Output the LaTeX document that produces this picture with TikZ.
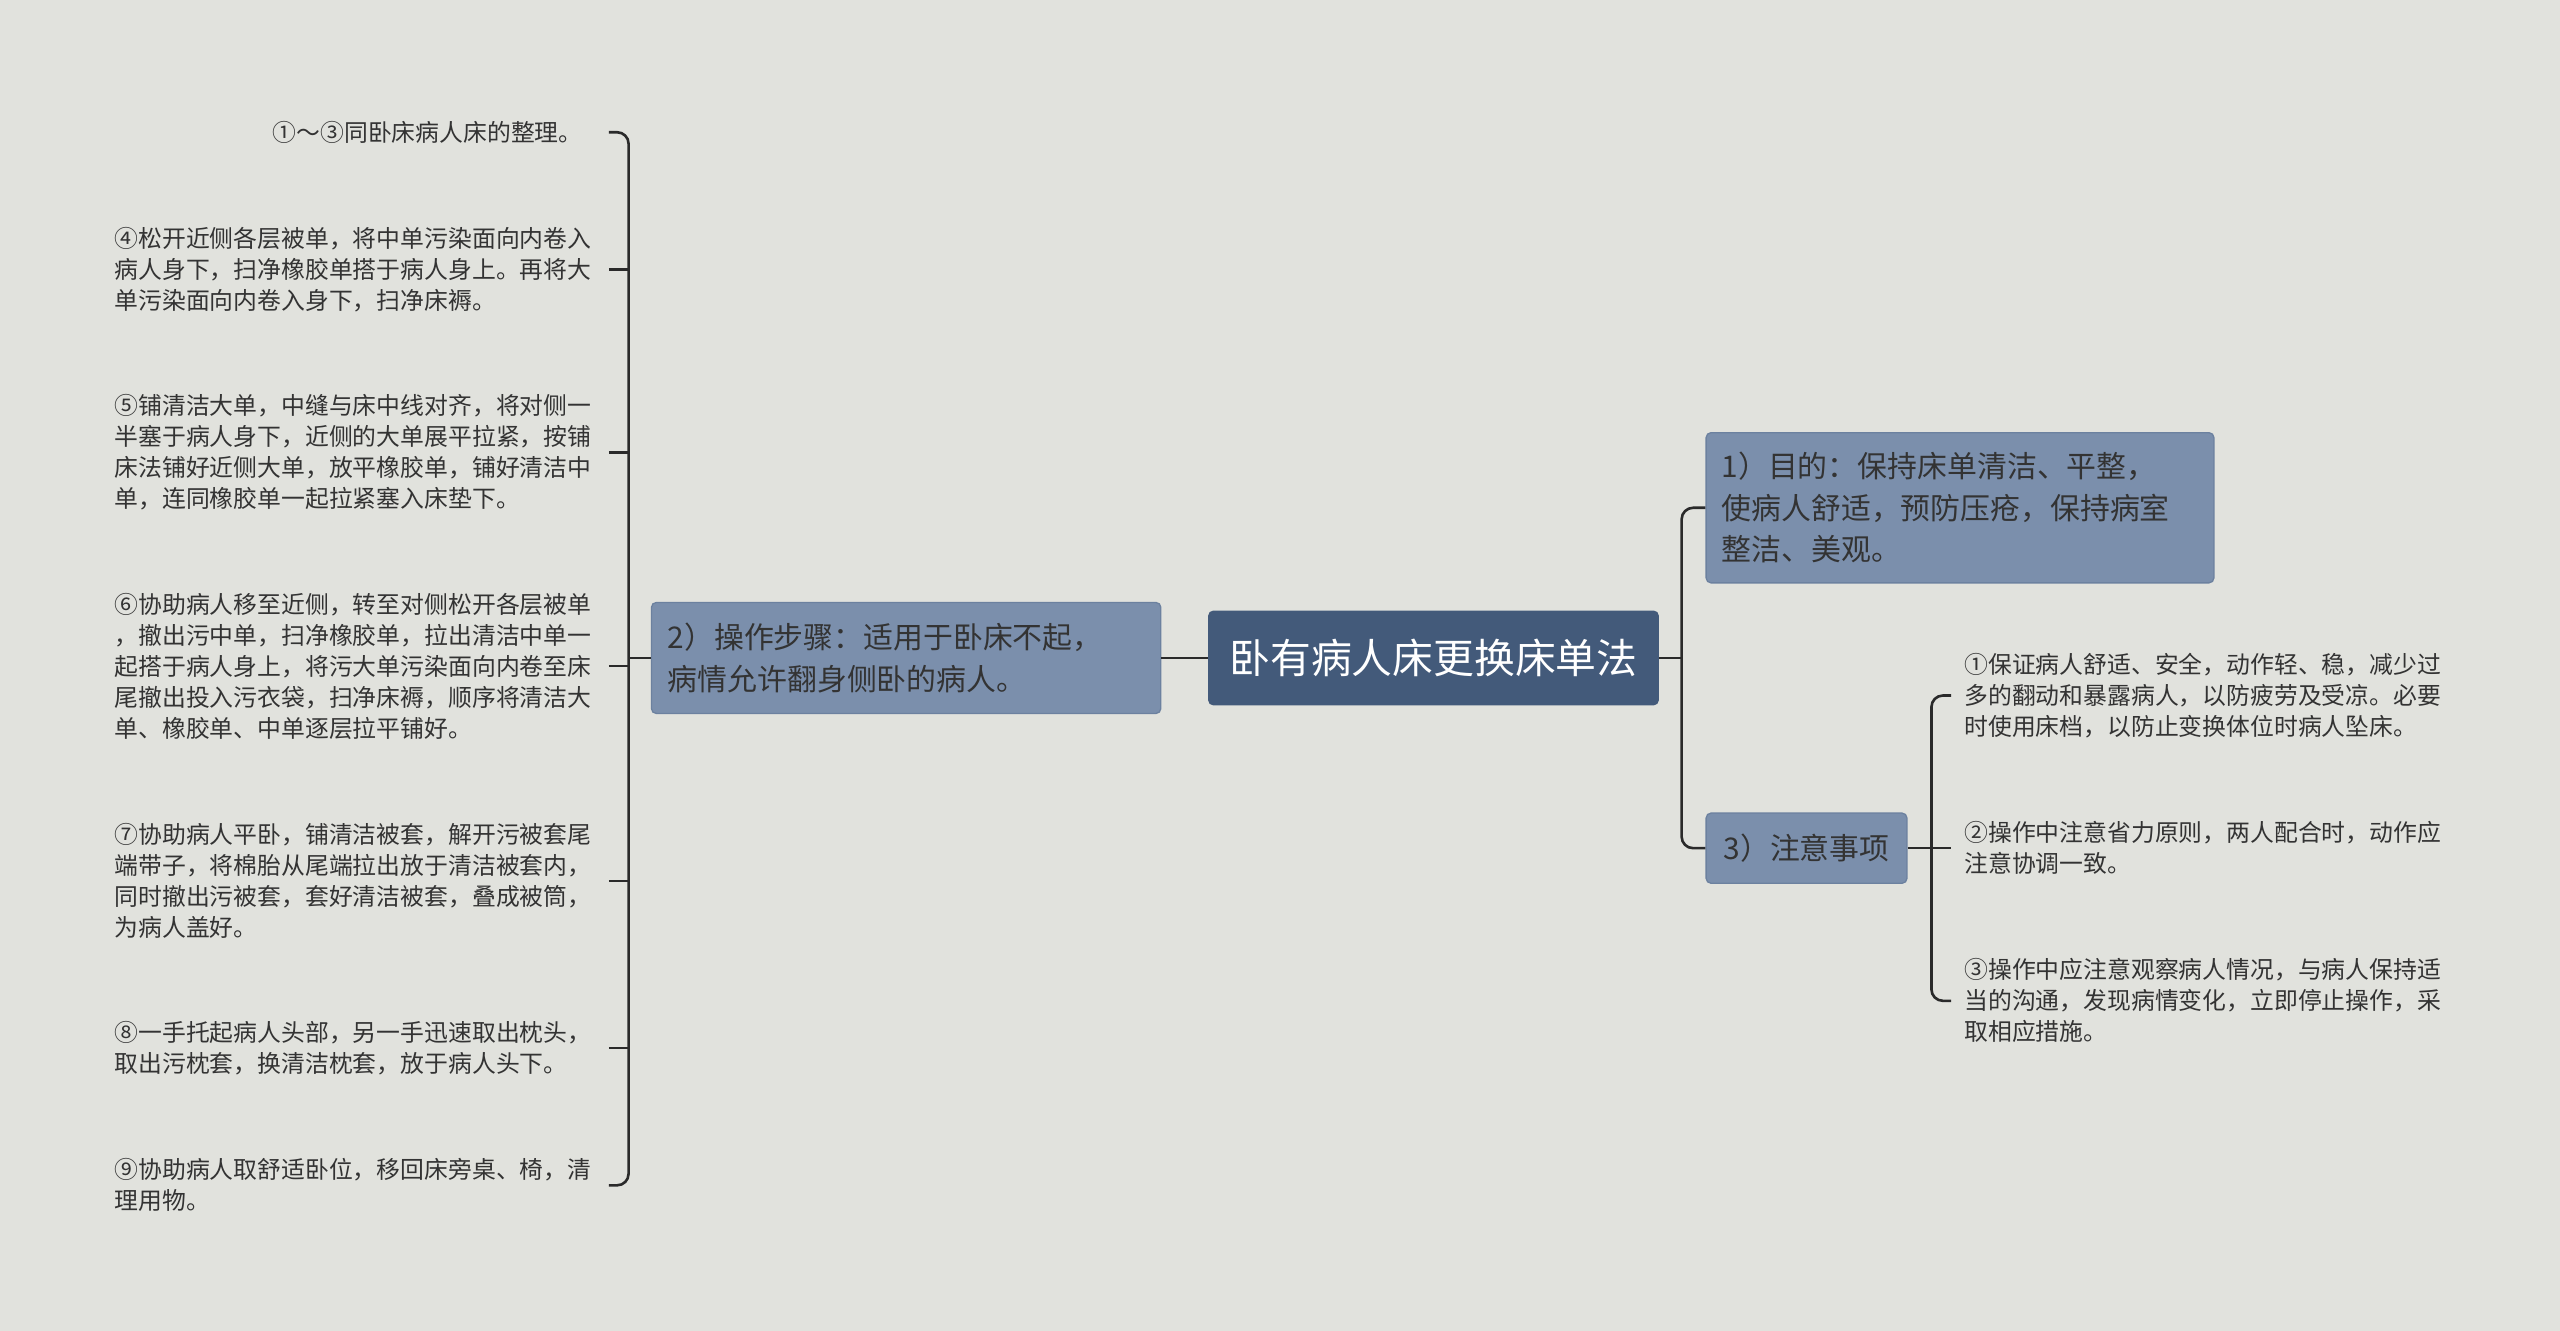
\documentclass[tikz,border=0pt]{standalone}
\usepackage{fontspec}
\setmainfont{Noto Sans CJK SC}
\definecolor{bg}{HTML}{E1E2DD}
\definecolor{cen}{HTML}{435A7A}
\definecolor{mid}{HTML}{7B8FAC}
\definecolor{midb}{HTML}{6C819F}
\definecolor{txt}{HTML}{333333}
\definecolor{ln}{HTML}{2A2A2A}
\tikzset{
 leaf/.style={font=\fontsize{14.6}{19}\selectfont,text=txt,inner sep=0pt,align=left},
 midbox/.style={fill=mid,draw=midb,line width=0.8pt,rounded corners=3pt,text=txt,font=\fontsize{18.3}{25.5}\selectfont,align=left,inner sep=0pt},
 conn/.style={draw=ln,line width=1.6pt,rounded corners=7pt}
}
\begin{document}
\begin{tikzpicture}[x=1pt,y=1pt]
\fill[bg] (0,0) rectangle (1568,-815);
\useasboundingbox (0,0) rectangle (1568,-815);
\node[fill=cen,rounded corners=3pt,text=white,font=\fontsize{25}{28}\selectfont,minimum width=276,minimum height=58,inner sep=0pt] (c) at (878,-403) {卧有病人床更换床单法};
\node[midbox,minimum width=312,minimum height=68,text width=292] (l) at (555,-403) {2）操作步骤：适用于卧床不起，\\病情允许翻身侧卧的病人。};
\node[midbox,minimum width=311,minimum height=92,text width=292] (r1) at (1200.5,-311) {1）目的：保持床单清洁、平整，\\使病人舒适，预防压疮，保持病室\\整洁、美观。};
\node[midbox,minimum width=123,minimum height=43,align=center] (r3) at (1106.5,-519.5) {3）注意事项};
% left leaves
\node[leaf,anchor=east] (a1) at (357,-81) {①～③同卧床病人床的整理。};
\node[leaf,anchor=west] (a2) at (70,-165) {④松开近侧各层被单，将中单污染面向内卷入\\病人身下，扫净橡胶单搭于病人身上。再将大\\单污染面向内卷入身下，扫净床褥。};
\node[leaf,anchor=west] (a3) at (70,-277) {⑤铺清洁大单，中缝与床中线对齐，将对侧一\\半塞于病人身下，近侧的大单展平拉紧，按铺\\床法铺好近侧大单，放平橡胶单，铺好清洁中\\单，连同橡胶单一起拉紧塞入床垫下。};
\node[leaf,anchor=west] (a4) at (70,-408) {⑥协助病人移至近侧，转至对侧松开各层被单\\，撤出污中单，扫净橡胶单，拉出清洁中单一\\起搭于病人身上，将污大单污染面向内卷至床\\尾撤出投入污衣袋，扫净床褥，顺序将清洁大\\单、橡胶单、中单逐层拉平铺好。};
\node[leaf,anchor=west] (a5) at (70,-539.5) {⑦协助病人平卧，铺清洁被套，解开污被套尾\\端带子，将棉胎从尾端拉出放于清洁被套内，\\同时撤出污被套，套好清洁被套，叠成被筒，\\为病人盖好。};
\node[leaf,anchor=west] (a6) at (70,-642) {⑧一手托起病人头部，另一手迅速取出枕头，\\取出污枕套，换清洁枕套，放于病人头下。};
\node[leaf,anchor=west] (a7) at (70,-726) {⑨协助病人取舒适卧位，移回床旁桌、椅，清\\理用物。};
% right leaves
\node[leaf,anchor=west] (b1) at (1203,-426) {①保证病人舒适、安全，动作轻、稳，减少过\\多的翻动和暴露病人，以防疲劳及受凉。必要\\时使用床档，以防止变换体位时病人坠床。};
\node[leaf,anchor=west] (b2) at (1203,-519.5) {②操作中注意省力原则，两人配合时，动作应\\注意协调一致。};
\node[leaf,anchor=west] (b3) at (1203,-613) {③操作中应注意观察病人情况，与病人保持适\\当的沟通，发现病情变化，立即停止操作，采\\取相应措施。};
% connectors
\draw[conn] (c.west) -- (l.east);
\draw[conn] (373,-81) -- (385,-81) -- (385,-726) -- (373,-726);
\foreach \y in {165,277,408,539.5,642}{\draw[draw=ln,line width=1.6pt] (373,-\y) -- (385,-\y);}
\draw[conn] (l.west) -- (385,-403);
\draw[conn] (r1.west) -- (1030,-311) -- (1030,-519.5) -- (r3.west);
\draw[conn] (c.east) -- (1030,-403);
\draw[conn] (1195,-426) -- (1183,-426) -- (1183,-613) -- (1195,-613);
\draw[conn] (r3.east) -- (1195,-519.5);
\end{tikzpicture}
\end{document}
